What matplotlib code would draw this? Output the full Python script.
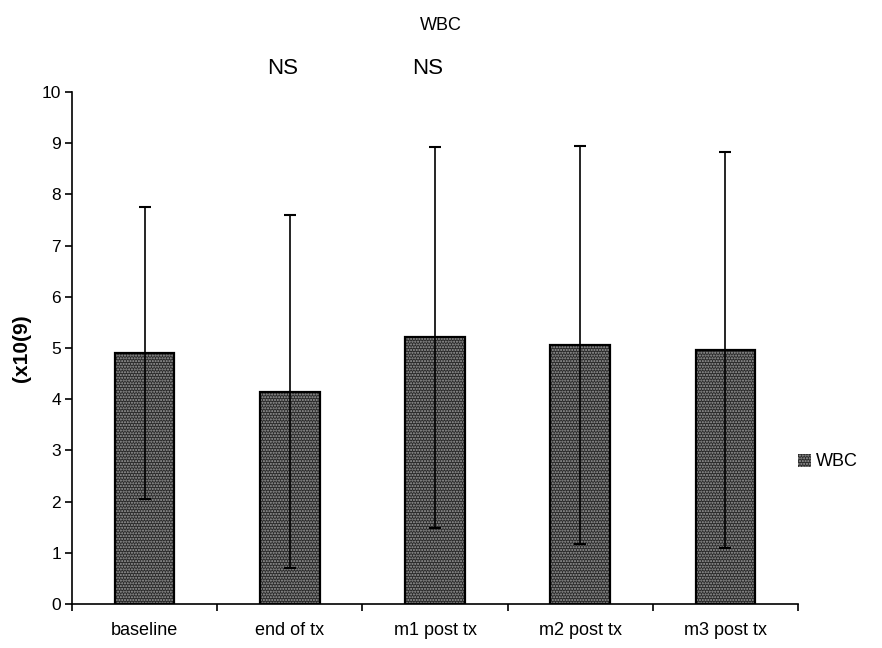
import matplotlib
matplotlib.use("Agg")
import matplotlib.pyplot as plt
from matplotlib.patches import Patch
import numpy as np

categories = ["baseline", "end of tx", "m1 post tx", "m2 post tx", "m3 post tx"]
means = [4.91, 4.15, 5.21, 5.06, 4.96]
sds = [2.85, 3.45, 3.72, 3.89, 3.87]
ns_labels = ["", "NS", "NS", "", ""]
yticks = [0, 1, 2, 3, 4, 5, 6, 7, 8, 9, 10]

regular = "Liberation Sans"
plt.rcParams["font.family"] = regular
plt.rcParams["hatch.linewidth"] = 1.0

fig = plt.figure(figsize=(8.82, 6.48), dpi=100)
ax = fig.add_axes([72 / 882, 44 / 648, 726 / 882, 512 / 648])

x = np.arange(len(categories))
face = "#2a2a2a"
speckle = "#a0a0a0"

# textured fill, then black outline on top
ax.bar(x, means, width=0.41, color=face, edgecolor=speckle, linewidth=0,
       hatch="......", zorder=2)
ax.bar(x, means, width=0.41, fill=False, edgecolor="black", linewidth=1.6, zorder=3)
ax.errorbar(x, means, yerr=sds, fmt="none", ecolor="black", elinewidth=1.2,
            capsize=4, capthick=1.5, zorder=4)

for i, lab in enumerate(ns_labels):
    if lab:
        ax.text(i - 0.05, 10.45, lab, ha="center", va="center", fontsize=16,
                clip_on=False)

ax.set_xlim(-0.5, len(categories) - 0.5)
ax.set_ylim(0, 10)
ax.set_yticks(yticks)
ax.set_yticklabels([str(t) for t in yticks], fontsize=12.5)
ax.set_xticks(x)
ax.set_xticklabels(categories, fontsize=13)
ax.set_xticks(np.arange(len(categories) + 1) - 0.5, minor=True)
ax.tick_params(axis="x", which="major", length=0, pad=13)
ax.tick_params(axis="x", which="minor", length=5, width=1.2, direction="out")
ax.tick_params(axis="y", length=5, width=1.2, direction="out", pad=3)

for s in ["top", "right"]:
    ax.spines[s].set_visible(False)
for s in ["left", "bottom"]:
    ax.spines[s].set_linewidth(1.2)

fig.text(22 / 882, 0.5 * (1 - 92 / 648 + 44 / 648), "(x10(9)", rotation=90,
         ha="center", va="center", fontsize=15, fontweight="bold")
fig.text(441 / 882, 1 - 26 / 648, "WBC", ha="center", va="center", fontsize=13)

handle = Patch(facecolor=face, edgecolor=speckle, hatch="......", linewidth=0)
fig.legend(handles=[handle], labels=["WBC"], loc="center left",
           bbox_to_anchor=(782 / 882, 1 - 462 / 648), frameon=False,
           handlelength=0.7, handleheight=0.7, handletextpad=0.3,
           prop={"size": 13})

fig.savefig("out.png", dpi=100)
